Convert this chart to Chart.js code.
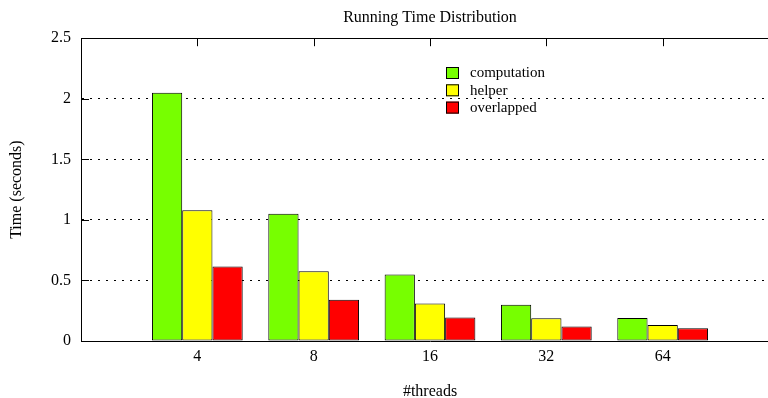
<!DOCTYPE html>
<html>
<head>
<meta charset="utf-8">
<script src="https://cdn.jsdelivr.net/npm/chart.js@4"></script>
<style>
  html, body { margin: 0; padding: 0; overflow: hidden; background: #fff; }
  #wrap { width: 780px; height: 398px; }
</style>
</head>
<body>
<div id="wrap"><canvas id="c"></canvas></div>
<script>
const categories = ['4', '8', '16', '32', '64'];
const computation = [2.05, 1.05, 0.55, 0.30, 0.19];
const helper = [1.08, 0.575, 0.31, 0.187, 0.132];
const overlapped = [0.615, 0.34, 0.195, 0.12, 0.105];
const yTicks = [0, 0.5, 1, 1.5, 2, 2.5];
const seriesNames = ['computation', 'helper', 'overlapped'];
const seriesColors = ['#77ff00', '#ffff00', '#ff0000'];

const FONT = 'Liberation Serif';

function toPoints(arr) { return arr.map((v, i) => ({ x: i, y: v })); }

const framePlugin = {
  id: 'frame',
  beforeDatasetsDraw(chart) {
    const { ctx, chartArea: a, scales } = chart;
    ctx.save();
    ctx.strokeStyle = '#000';
    ctx.lineWidth = 1;
    ctx.setLineDash([]);
    scales.y.ticks.forEach(t => {
      const py = Math.round(scales.y.getPixelForValue(t.value)) + 0.5;
      ctx.beginPath();
      ctx.moveTo(a.left, py);
      ctx.lineTo(a.left + 8, py);
      ctx.stroke();
    });
    ctx.restore();
  },
  afterDraw(chart) {
    const { ctx, chartArea: a, scales, data } = chart;
    ctx.save();
    ctx.strokeStyle = '#000';
    ctx.lineWidth = 1;
    ctx.setLineDash([]);
    const ty = Math.round(a.top) + 0.5;
    ctx.beginPath();
    ctx.moveTo(a.left, ty);
    ctx.lineTo(a.right, ty);
    ctx.stroke();
    scales.x.ticks.forEach(t => {
      const px = Math.round(scales.x.getPixelForValue(t.value)) + 0.5;
      ctx.beginPath();
      ctx.moveTo(px, a.top);
      ctx.lineTo(px, a.top + 8);
      ctx.stroke();
    });
    ctx.font = '15px "' + FONT + '"';
    ctx.textBaseline = 'middle';
    ctx.textAlign = 'left';
    data.datasets.forEach((ds, i) => {
      const y0 = 67 + i * 17.3;
      ctx.fillStyle = ds.backgroundColor;
      ctx.fillRect(446, y0, 13, 12);
      ctx.strokeStyle = '#000';
      ctx.strokeRect(446.5, y0 + 0.5, 12, 11);
      ctx.fillStyle = '#000';
      ctx.fillText(ds.label, 470, y0 + 6.5);
    });
    ctx.restore();
  }
};

new Chart(document.getElementById('c'), {
  type: 'bar',
  data: {
    datasets: [computation, helper, overlapped].map((arr, i) => ({
      label: seriesNames[i],
      data: toPoints(arr),
      backgroundColor: seriesColors[i],
      borderColor: '#000',
      borderWidth: 1,
      borderSkipped: false,
      categoryPercentage: 0.78,
      barPercentage: 1.0
    }))
  },
  options: {
    responsive: true,
    maintainAspectRatio: false,
    animation: false,
    layout: { padding: { left: 0, right: 1, top: 0, bottom: 0 } },
    plugins: {
      legend: { display: false },
      tooltip: { enabled: false },
      title: {
        display: true,
        text: 'Running Time Distribution',
        color: '#000',
        fullSize: false,
        font: { family: FONT, size: 16, weight: 'normal' },
        padding: { top: 8, bottom: 11 }
      }
    },
    scales: {
      x: {
        type: 'linear',
        offset: false,
        min: -1,
        max: 5,
        afterBuildTicks(scale) {
          scale.ticks = categories.map((c, i) => ({ value: i }));
        },
        afterFit(scale) { scale.height = 57; },
        grid: { display: false, drawTicks: false, offset: false },
        border: { display: true, color: '#000', width: 1 },
        ticks: {
          autoSkip: false,
          maxRotation: 0,
          padding: 6,
          color: '#000',
          font: { family: FONT, size: 16 },
          callback: (v) => categories[v] ?? ''
        },
        title: {
          display: true,
          text: '#threads',
          color: '#000',
          font: { family: FONT, size: 16 },
          padding: { top: 0, bottom: -3 }
        }
      },
      y: {
        min: 0,
        max: 2.5,
        afterBuildTicks(scale) {
          scale.ticks = yTicks.map(v => ({ value: v }));
        },
        afterFit(scale) { scale.width = 81; },
        grid: { color: '#000', lineWidth: 1, drawTicks: false },
        border: { display: true, color: '#000', width: 1, dash: [2, 6] },
        ticks: {
          padding: 10,
          color: '#000',
          font: { family: FONT, size: 16 },
          callback: (v) => String(v)
        },
        title: {
          display: true,
          text: 'Time (seconds)',
          color: '#000',
          font: { family: FONT, size: 16 },
          padding: { top: 7, bottom: 0 }
        }
      }
    }
  },
  plugins: [framePlugin]
});
</script>
</body>
</html>
